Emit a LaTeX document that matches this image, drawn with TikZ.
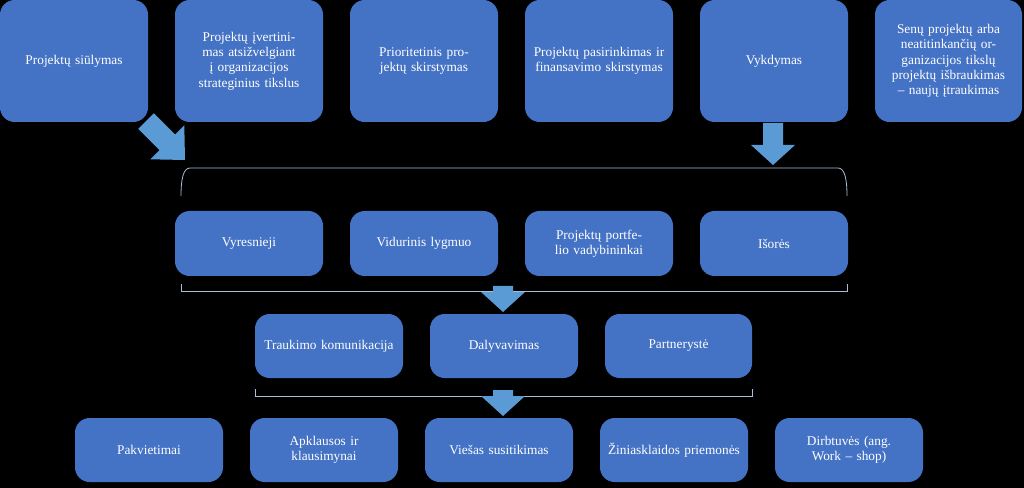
\documentclass[tikz,border=0pt]{standalone}
\usepackage{fontspec}
\setmainfont{Liberation Serif}
\begin{document}
\begin{tikzpicture}[x=0.75pt,y=-0.75pt]
\definecolor{bx}{HTML}{4472C4}
\definecolor{ar}{HTML}{5B9BD5}
\definecolor{br}{HTML}{A9BDD9}
\tikzset{box/.style={fill=bx,draw=none,rounded corners=11pt,text=white,align=center,font=\fontsize{10}{11.5}\selectfont,inner sep=0pt},
 arr/.style={fill=ar,draw=none},
 brk/.style={draw=br,line width=0.6pt}}
\fill[black] (0,0) rectangle (1024,488);
\useasboundingbox (0,0) rectangle (1024,488);
\newcommand{\bx}[6]{\node[box,minimum width=#3*0.75pt,minimum height=#4*0.75pt,text width=(#3-16)*0.75pt] (#1) at (#2) {#5};}
% top row
\bx{a1}{74,61}{148}{122}{Projektų siūlymas}{}
\bx{a2}{249,61}{148}{122}{Projektų įvertinimas atsižvelgiant į organizacijos strateginius tikslus}{}
\bx{a3}{424,61}{148}{122}{Prioritetinis projektų skirstymas}{}
\bx{a4}{599,61}{148}{122}{Projektų pasirinkimas ir finansavimo skirstymas}{}
\bx{a5}{774,61}{148}{122}{Vykdymas}{}
\bx{a6}{948.5,61}{147}{122}{Senų projektų arba neatitinkančių organizacijos tikslų projektų išbraukimas – naujų įtraukimas}{}
% row 2
\bx{b1}{249,243.5}{148}{65}{Vyresnieji}{}
\bx{b2}{424,243.5}{148}{65}{Vidurinis lygmuo}{}
\bx{b3}{599,243.5}{148}{65}{Projektų portfelio vadybininkai}{}
\bx{b4}{774,243.5}{148}{65}{Išorės}{}
% row 3
\bx{c1}{329,346}{148}{64}{Traukimo komunikacija}{}
\bx{c2}{504,346}{148}{64}{Dalyvavimas}{}
\bx{c3}{678.5,346}{147}{64}{Partnerystė}{}
% row 4
\bx{d1}{149,450}{148}{64}{Pakvietimai}{}
\bx{d2}{324,450}{148}{64}{Apklausos ir klausimynai}{}
\bx{d3}{499,450}{148}{64}{Viešas susitikimas}{}
\bx{d4}{674,450}{148}{64}{Žiniasklaidos priemonės}{}
\bx{d5}{849,450}{148}{64}{Dirbtuvės (ang. Work – shop)}{}
% brackets
\draw[brk] (181,196) .. controls (181,180) and (183,168) .. (190,168) -- (838,168) .. controls (845,168) and (847,180) .. (847,196);
\draw[brk] (181,284) -- (181,291) -- (847,291) -- (847,284);
\draw[brk] (255,389) -- (255,396) -- (752,396) -- (752,389);
% arrows
\fill[arr] (185,160) -- (150.3,159.3) -- (159.5,150.1) -- (138.3,128.9) -- (153.9,113.3) -- (175.1,134.5) -- (184.3,125.3) -- cycle;
\newcommand{\dar}[3]{\fill[arr] (#1-10,#2) -- (#1+10,#2) -- (#1+10,#3-20) -- (#1+22,#3-20) -- (#1,#3) -- (#1-22,#3-20) -- (#1-10,#3-20) -- cycle;}
\dar{773}{123}{165}
\dar{503}{286}{312}
\dar{503}{390}{416}
\end{tikzpicture}
\end{document}
